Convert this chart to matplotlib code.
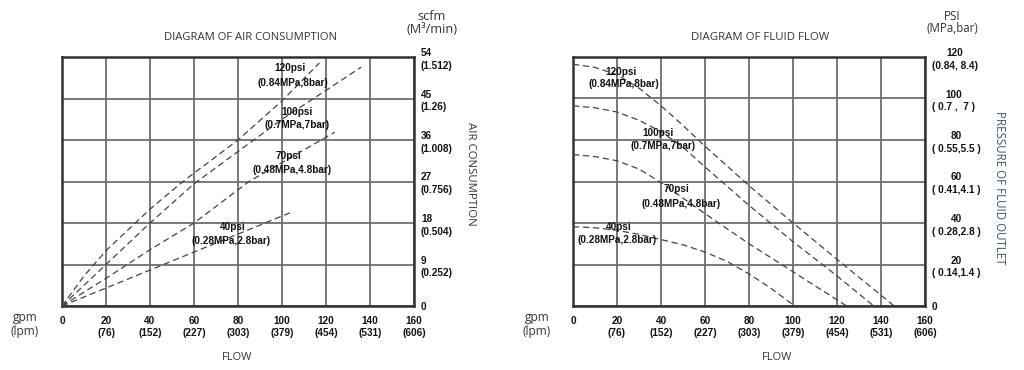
import matplotlib
matplotlib.use("Agg")
import matplotlib.pyplot as plt

# ---------------- data ----------------
flow_ticks = [0, 20, 40, 60, 80, 100, 120, 140, 160]
flow_tick_labels = ["0", "20\n(76)", "40\n(152)", "60\n(227)", "80\n(303)", "100\n(379)",
                    "120\n(454)", "140\n(531)", "160\n(606)"]

air_ticks = [0, 9, 18, 27, 36, 45, 54]
air_tick_labels = ["0", "9\n(0.252)", "18\n(0.504)", "27\n(0.756)", "36\n(1.008)",
                   "45\n(1.26)", "54\n(1.512)"]

psi_ticks = [0, 20, 40, 60, 80, 100, 120]
psi_tick_labels = ["0", "20\n( 0.14,1.4 )", "40\n( 0.28,2.8 )", "60\n( 0.41,4.1 )",
                   "80\n( 0.55,5.5 )", "100\n( 0.7 ,  7 )", "120\n(0.84, 8.4)"]

# air consumption curves (flow gpm -> scfm)
air_120_flow = [0, 10, 20, 30, 40, 55, 80, 100, 117]
air_120_scfm = [0, 6.5, 12, 16.5, 21, 27, 36, 44.5, 52.7]
air_100_flow = [0, 20, 40, 60, 80, 100, 136]
air_100_scfm = [0, 9, 18, 26.5, 33.5, 40.5, 51.8]
air_70_flow = [0, 20, 40, 60, 85, 124]
air_70_scfm = [0, 6, 12.2, 18, 27, 37.7]
air_40_flow = [0, 20, 40, 60, 80, 103.6]
air_40_scfm = [0, 3.9, 7.8, 11.7, 15.6, 20.2]

# fluid flow curves (flow gpm -> outlet pressure psi)
ff_120_flow = [0, 10, 20, 30, 40, 50, 60, 80, 100, 120, 146]
ff_120_psi = [116.5, 115, 111.5, 105, 96.5, 87, 77, 58, 40, 22.5, 0]
ff_100_flow = [0, 10, 20, 30, 40, 50, 60, 80, 100, 120, 136.7]
ff_100_psi = [96.5, 95.5, 93.5, 89.5, 84, 76.5, 67, 48.5, 31, 14.5, 0]
ff_70_flow = [0, 10, 20, 30, 40, 50, 60, 80, 100, 124.4]
ff_70_psi = [73, 72, 70, 66, 59.5, 52, 44.5, 30, 16.5, 0]
ff_40_flow = [0, 10, 20, 30, 40, 50, 60, 70, 80, 90, 100.8]
ff_40_psi = [38.2, 37.7, 36.5, 34.5, 32, 29.5, 26, 21.5, 15.5, 8.5, 0]

air_labels = [("120psi", "(0.84MPa,8bar)"), ("100psi", "(0.7MPa,7bar)"),
              ("70psi", "(0.48MPa,4.8bar)"), ("40psi", "(0.28MPa,2.8bar)")]

# ---------------- figure ----------------
fig = plt.figure(figsize=(10.24, 3.70), dpi=100)
BOLD = dict(family="Liberation Sans", weight="bold", fontsize=7.2, color="#111111")
LIGHT = dict(family="Open Sans", color="#333333")
GRID_C = "#6e6e6e"
LINE_C = "#444444"


def px(x, y):
    return (x / 1024.0, 1 - y / 370.0)


def setup(ax, yticks, ylabels, ymax, center_ml):
    ax.set_xlim(0, 160)
    ax.set_ylim(0, ymax)
    ax.set_xticks(flow_ticks)
    ax.set_xticklabels(flow_tick_labels, **BOLD, linespacing=1.25)
    ax.set_yticks(yticks)
    ax.yaxis.tick_right()
    ax.set_yticklabels(ylabels, **BOLD, linespacing=1.35,
                       multialignment="center" if center_ml else "left")
    ax.tick_params(axis="both", length=0)
    ax.tick_params(axis="x", pad=7)
    ax.tick_params(axis="y", pad=5)
    ax.grid(True, color=GRID_C, linewidth=1.3)
    ax.set_axisbelow(True)
    for s in ax.spines.values():
        s.set_linewidth(1.8)
        s.set_color("#333333")


def dashed(ax, x, y):
    ax.plot(x, y, linestyle=(0, (5, 3)), color=LINE_C, linewidth=0.9, zorder=3)


# ---- left: air consumption ----
ax1 = fig.add_axes([62 / 1024, 1 - 306 / 370, 352 / 1024, 249 / 370])
setup(ax1, air_ticks, air_tick_labels, 54, False)
dashed(ax1, air_120_flow, air_120_scfm)
dashed(ax1, air_100_flow, air_100_scfm)
dashed(ax1, air_70_flow, air_70_scfm)
dashed(ax1, air_40_flow, air_40_scfm)

left_label_pos = [(290, 68, 293, 83), (297, 112, 297, 125), (289, 156, 292, 170), (233, 227, 231, 241)]
for (a, b), (x1, y1, x2, y2) in zip(air_labels, left_label_pos):
    fig.text(*px(x1, y1), a, ha="center", va="center", **BOLD)
    fig.text(*px(x2, y2), b, ha="center", va="center", **BOLD)

fig.text(*px(251, 37), "DIAGRAM OF AIR CONSUMPTION", ha="center", va="center", fontsize=8.1, **LIGHT)
fig.text(*px(432, 17), "scfm", ha="center", va="center", fontsize=9.2, **LIGHT)
fig.text(*px(432, 29.5), "(M\u00b3/min)", ha="center", va="center", fontsize=9.2, **LIGHT)
fig.text(*px(470, 174), "AIR CONSUMPTION", ha="center", va="center", rotation=-90, fontsize=8.2, **LIGHT)
fig.text(*px(237, 357), "FLOW", ha="center", va="center", fontsize=8.0, **LIGHT)
fig.text(*px(25, 318), "gpm", ha="center", va="center", fontsize=8.6, **LIGHT)
fig.text(*px(25, 331), "(lpm)", ha="center", va="center", fontsize=8.6, **LIGHT)

# ---- right: fluid flow ----
ax2 = fig.add_axes([573 / 1024, 1 - 306 / 370, 352 / 1024, 249 / 370])
setup(ax2, psi_ticks, psi_tick_labels, 120, True)
dashed(ax2, ff_120_flow, ff_120_psi)
dashed(ax2, ff_100_flow, ff_100_psi)
dashed(ax2, ff_70_flow, ff_70_psi)
dashed(ax2, ff_40_flow, ff_40_psi)

right_label_pos = [(621, 72, 624, 84), (658, 133, 663, 146), (677, 189, 681, 204), (619, 227, 617, 240)]
for (a, b), (x1, y1, x2, y2) in zip(air_labels, right_label_pos):
    fig.text(*px(x1, y1), a, ha="center", va="center", **BOLD)
    fig.text(*px(x2, y2), b, ha="center", va="center", **BOLD)

fig.text(*px(760, 37), "DIAGRAM OF FLUID FLOW", ha="center", va="center", fontsize=8.2, **LIGHT)
fig.text(*px(952, 16), "PSI", ha="center", va="center", fontsize=8.3, **LIGHT)
fig.text(*px(952, 29), "(MPa,bar)", ha="center", va="center", fontsize=8.3, **LIGHT)
fig.text(*px(1000, 188), "PRESSURE OF FLUID OUTLET", ha="center", va="center", rotation=-90,
         fontsize=8.3, family="Open Sans", color="#3d5170")
fig.text(*px(777, 357), "FLOW", ha="center", va="center", fontsize=8.0, **LIGHT)
fig.text(*px(537, 318), "gpm", ha="center", va="center", fontsize=8.6, **LIGHT)
fig.text(*px(537, 331), "(lpm)", ha="center", va="center", fontsize=8.6, **LIGHT)

fig.savefig("out.png", dpi=100, facecolor="white")
